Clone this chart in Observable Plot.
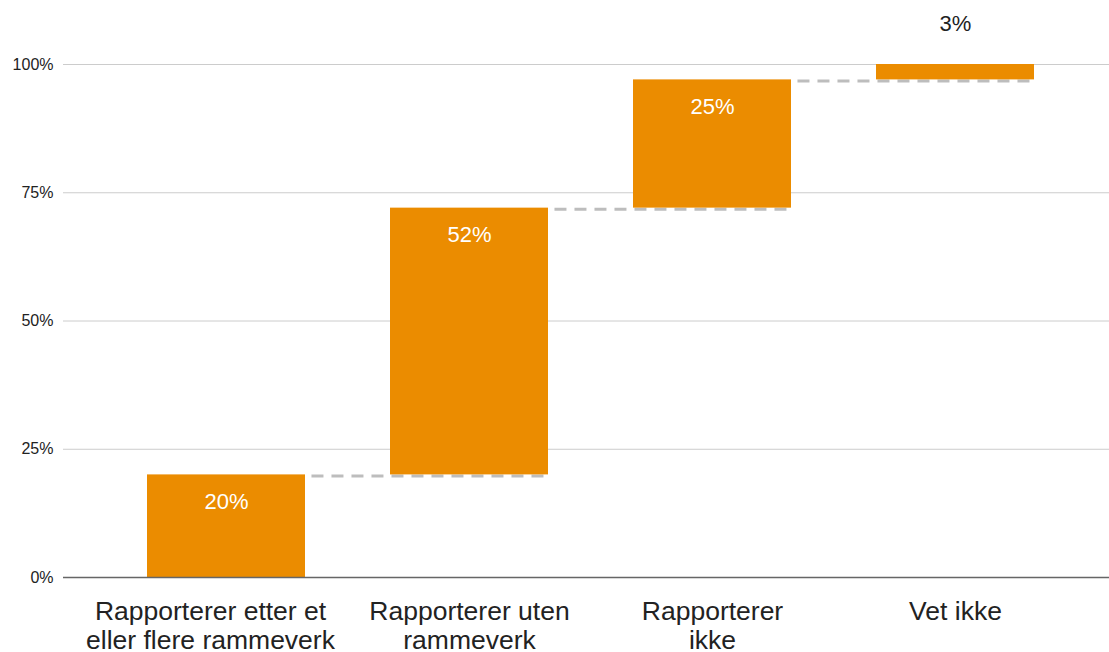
<!DOCTYPE html>
<html><head><meta charset="utf-8">
<script src="https://cdn.jsdelivr.net/npm/d3@7"></script>
<script src="https://cdn.jsdelivr.net/npm/@observablehq/plot@0.6"></script>
<style>body{margin:0;background:#fff;} svg{display:block;}</style>
</head><body><div id="chart"></div>
<script>
const categories = [
  "Rapporterer etter et\neller flere rammeverk",
  "Rapporterer uten\nrammeverk",
  "Rapporterer\nikke",
  "Vet ikke"
];
const values = [20, 52, 25, 3];
const yTicks = [0, 25, 50, 75, 100];

const ends = d3.cumsum(values);
const rows = categories.map((c, i) => ({cat: c, start: ends[i] - values[i], end: ends[i], value: values[i], label: values[i] + "%"}));
const connectors = rows.slice(1).map((r, i) => ({from: rows[i].cat, to: r.cat, y: r.start}));

const xRange = [104.3, 1077.4], padIn = 0.3486, padOut = 0.1743;
const band = d3.scaleBand(categories, xRange).paddingInner(padIn).paddingOuter(padOut).align(0.5);
const bw = band.bandwidth();

const xAxisStyle = {tickSize: 0, tickPadding: 22, fontSize: 26.5, lineHeight: 1.1, label: null};

const chart = Plot.plot({
  width: 1109, height: 652,
  marginTop: 64, marginBottom: 75, marginLeft: 63, marginRight: 0,
  style: {fontFamily: "'Liberation Sans', Arial, sans-serif", background: "#fff", color: "#222"},
  x: {domain: categories, range: xRange, paddingInner: padIn, paddingOuter: padOut, align: 0.5},
  y: {domain: [0, 100]},
  marks: [
    Plot.ruleY(yTicks.filter(t => t > 0), {stroke: "#cccccc", strokeWidth: 1}),
    Plot.ruleY(connectors, {x1: "from", x2: "to", y: "y", insetLeft: bw, stroke: "#bdbdbd", strokeWidth: 3, strokeDasharray: "12,8", strokeDashoffset: 14, dy: 1}),
    Plot.barY(rows, {x: "cat", y1: "start", y2: "end", fill: "#eb8c00"}),
    Plot.ruleY([0], {stroke: "#666", strokeWidth: 1.5}),
    Plot.text(rows.filter(d => d.value >= 10), {x: "cat", y: "end", text: "label", dy: 27, fill: "white", fontSize: 22}),
    Plot.text(rows.filter(d => d.value < 10), {x: "cat", y: "end", text: "label", dy: -41, fill: "#222", fontSize: 22}),
    Plot.axisY({ticks: yTicks, tickFormat: d => d + "%", tickSize: 0, tickPadding: 10, fontSize: 16, label: null}),
    Plot.axisX({...xAxisStyle, ticks: categories.slice(0, 1), dx: -16}),
    Plot.axisX({...xAxisStyle, ticks: categories.slice(1)})
  ]
});
document.getElementById("chart").appendChild(chart);
</script>
</body></html>
